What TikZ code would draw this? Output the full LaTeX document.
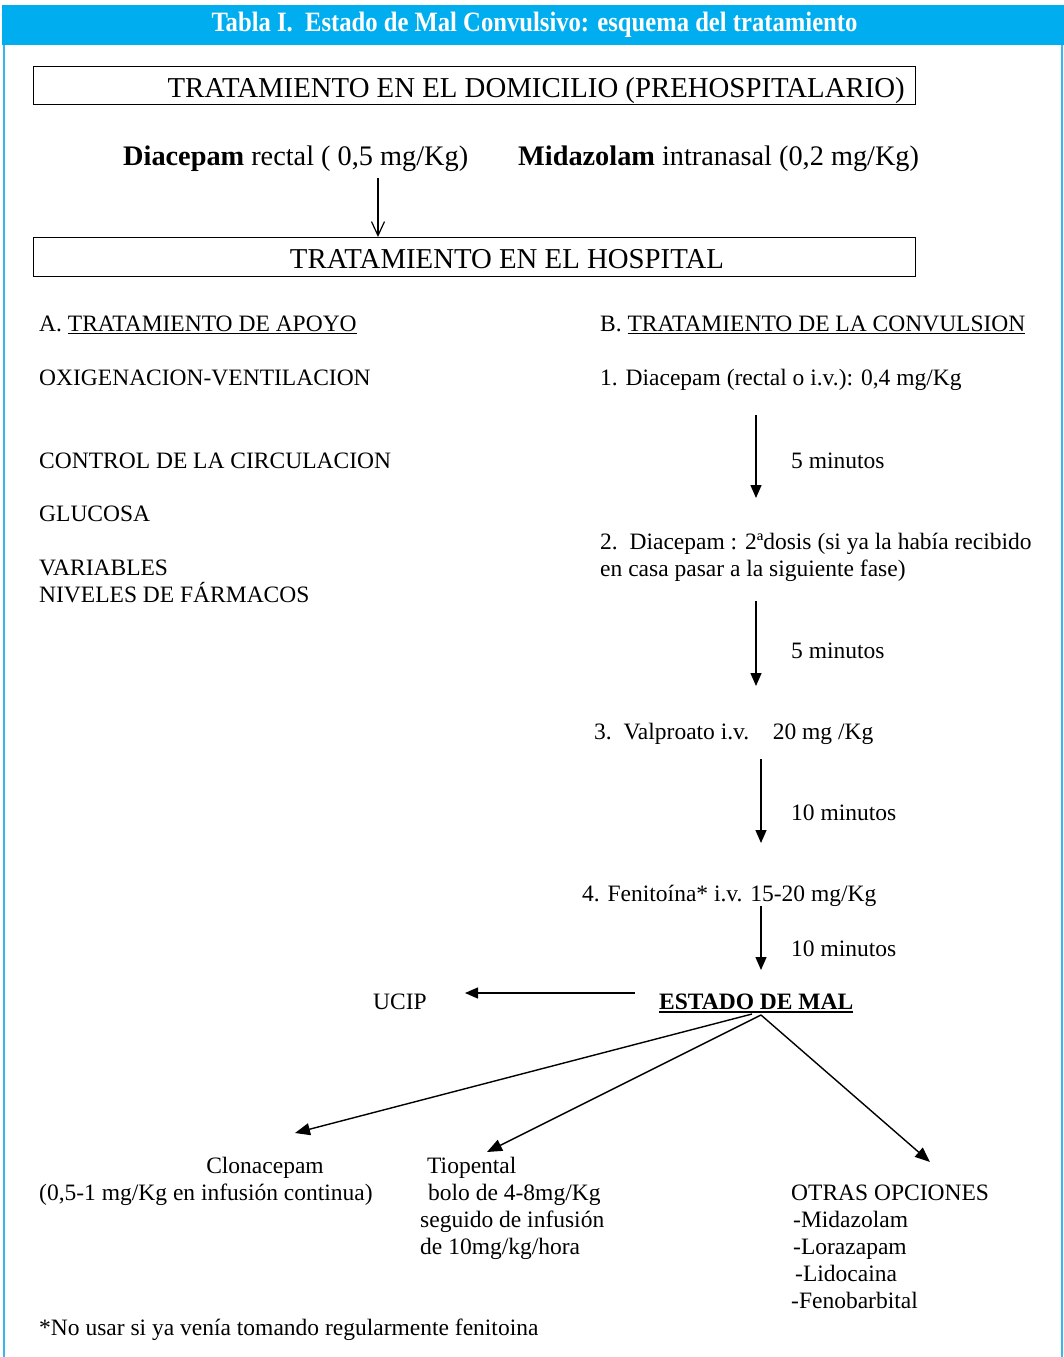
\documentclass[tikz,border=0pt]{standalone}
\usepackage{fontspec}
\setmainfont{Liberation Serif}
\newfontfamily\titlefont[FakeStretch=0.88]{Liberation Serif}
\usetikzlibrary{arrows.meta}
\definecolor{bandblue}{HTML}{00AEEF}
\definecolor{edgeblue}{HTML}{38B6EE}
\newcommand\uline[3]{\setbox0=\hbox{#3}\rlap{\rule[-#1]{\wd0}{#2}}\box0}
\begin{document}
\begin{tikzpicture}[x=1pt,y=-1pt,
  txt/.style={inner sep=0pt, anchor=base west, font=\fontsize{23.5}{27}\selectfont},
  ctxt/.style={txt, anchor=base},
  bigtxt/.style={inner sep=0pt, anchor=base west, font=\fontsize{28.8}{32}\selectfont},
  dosetxt/.style={inner sep=0pt, anchor=base west, font=\fontsize{28.3}{32}\selectfont},
  framebox/.style={draw, line width=1.3pt, inner sep=0pt, anchor=north west},
  arr/.style={-{Triangle[length=13pt,width=11pt]}, line width=1.4pt},
  openarr/.style={-{Straight Barb[length=14pt,width=13pt]}, line width=1.2pt},
  fanline/.style={-{Triangle[length=15pt,width=12pt]}, line width=1.4pt}]
\useasboundingbox (0,0) rectangle (1064,1357);
% header band and frame
\fill[bandblue] (2,5) rectangle (1064,45);
\draw[edgeblue, line width=2pt] (4,45) -- (4,1357);
\draw[edgeblue, line width=2pt] (1062,45) -- (1062,1357);
\node[inner sep=0pt, anchor=base, text=white, font=\titlefont\bfseries\fontsize{28}{32}\selectfont] (title) at (534.5,31) {Tabla I.\ \ Estado de Mal Convulsivo: esquema del tratamiento};

% prehospital
\node[framebox, minimum width=882pt, minimum height=38pt] (home) at (33,66) {};
\node[bigtxt, anchor=base east] (hometxt) at (905,97) {TRATAMIENTO EN EL DOMICILIO (PREHOSPITALARIO)};
\node[dosetxt] (diac) at (123,165) {\textbf{Diacepam} rectal ( 0,5 mg/Kg)};
\node[dosetxt] (mida) at (518,165) {\textbf{Midazolam} intranasal (0,2 mg/Kg)};

% hospital
\node[framebox, minimum width=882pt, minimum height=39pt] (hosp) at (33,237) {};
\node[bigtxt, anchor=base] (hosptxt) at (507,268) {TRATAMIENTO EN EL HOSPITAL};
\coordinate (diacdown) at (378,178);
\draw[openarr] (diacdown) -- (hosp.north -| diacdown);

% column A
\node[txt] (colA) at (39,331) {A. \uline{3pt}{1.3pt}{TRATAMIENTO DE APOYO}};
\node[txt] (oxi) at (39,385) {OXIGENACION-VENTILACION};
\node[txt] (circ) at (39,468) {CONTROL DE LA CIRCULACION};
\node[txt] (gluc) at (39,521) {GLUCOSA};
\node[txt] (vari) at (39,575) {VARIABLES};
\node[txt] (nive) at (39,602) {NIVELES DE FÁRMACOS};

% column B
\node[txt] (colB) at (600,331) {B. \uline{3pt}{1.3pt}{TRATAMIENTO DE LA CONVULSION}};
\node[txt] (s1) at (600,385) {1. Diacepam (rectal o i.v.): 0,4 mg/Kg};
\node[txt] (t1) at (791,468) {5 minutos};
\node[txt] (s2) at (600,549) {2.\ \ Diacepam : 2ªdosis (si ya la había recibido};
\node[txt] (s2b) at (600,576) {en casa pasar a la siguiente fase)};
\node[txt] (t2) at (791,658) {5 minutos};
\node[txt] (s3) at (594,739) {3.\ \ Valproato i.v.\ \ \ \ 20 mg /Kg};
\node[txt] (t3) at (791,820) {10 minutos};
\node[txt] (s4) at (582,901) {4. Fenitoína* i.v. 15-20 mg/Kg};
\node[txt] (t4) at (791,956) {10 minutos};
\node[txt, font=\fontsize{23.5}{27}\selectfont\bfseries] (em) at (659,1009) {\uline{4pt}{2.2pt}{ESTADO DE MAL}};
\node[txt] (ucip) at (373,1009) {UCIP};

\coordinate (a1s) at (756,415); \coordinate (a1e) at (756,498);
\coordinate (a2s) at (756,601); \coordinate (a2e) at (756,686);
\coordinate (a3s) at (761,759); \coordinate (a3e) at (761,843);
\coordinate (a4s) at (761,906); \coordinate (a4e) at (761,970);
\draw[arr] (a1s) -- (a1e);
\draw[arr] (a2s) -- (a2e);
\draw[arr] (a3s) -- (a3e);
\draw[arr] (a4s) -- (a4e);
\coordinate (us) at (635,993); \coordinate (ue) at (465,993);
\draw[arr] (us) -- (ue);

% bottom options
\node[ctxt] (clon) at (265,1173) {Clonacepam};
\node[txt] (clonb) at (39,1200) {(0,5-1 mg/Kg en infusión continua)};
\node[txt] (tio) at (427,1173) {Tiopental};
\node[txt] (tiob) at (428,1200) {bolo de 4-8mg/Kg};
\node[txt] (tioc) at (420,1227) {seguido de infusión};
\node[txt] (tiod) at (420,1254) {de 10mg/kg/hora};
\node[txt] (otras) at (791,1200) {OTRAS OPCIONES};
\node[txt] (o1) at (793,1227) {-Midazolam};
\node[txt] (o2) at (793,1254) {-Lorazapam};
\node[txt] (o3) at (795,1281) {-Lidocaina};
\node[txt] (o4) at (791,1308) {-Fenobarbital};
\node[txt] (foot) at (39,1335) {*No usar si ya venía tomando regularmente fenitoina};

\coordinate (emA) at (752,1014);
\coordinate (emB) at (761,1015);
\coordinate (clonTip) at (295,1133);
\coordinate (tioTip) at (487,1152);
\coordinate (otrasTip) at (930,1162);
\draw[fanline] (emA) -- (clonTip);
\draw[fanline] (emB) -- (tioTip);
\draw[fanline] (emB) -- (otrasTip);
\end{tikzpicture}
\end{document}
